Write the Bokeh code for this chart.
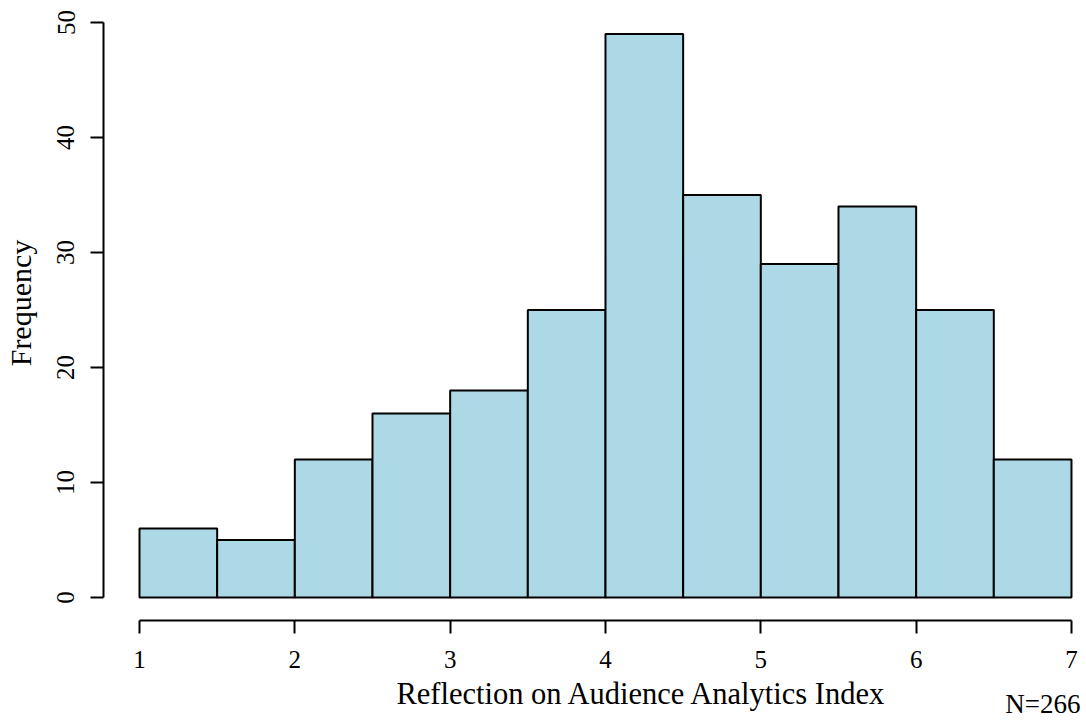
import math
from bokeh.plotting import figure
from bokeh.models import Range1d, FixedTicker, Label
from bokeh.embed import file_html
from bokeh.resources import INLINE

# Histogram data (bin edges and counts)
bin_left = [1.0, 1.5, 2.0, 2.5, 3.0, 3.5, 4.0, 4.5, 5.0, 5.5, 6.0, 6.5]
bin_right = [1.5, 2.0, 2.5, 3.0, 3.5, 4.0, 4.5, 5.0, 5.5, 6.0, 6.5, 7.0]
counts = [6, 5, 12, 16, 18, 25, 49, 35, 29, 34, 25, 12]
x_ticks = [1, 2, 3, 4, 5, 6, 7]
y_ticks = [0, 10, 20, 30, 40, 50]
x_title = "Reflection on Audience Analytics Index"
y_title = "Frequency"
n_note = "N=266"

FONT = "Liberation Serif"

# frame covers the whole canvas; axes are drawn at fixed data locations (R style, detached)
p = figure(width=1086, height=720, output_backend="svg", toolbar_location=None,
           x_range=Range1d(0.10513, 7.0967), y_range=Range1d(-10.6957, 51.913),
           min_border_left=0, min_border_right=0, min_border_top=0, min_border_bottom=0)
p.outline_line_color = None
p.xgrid.visible = False
p.ygrid.visible = False
p.background_fill_color = "white"
p.border_fill_color = "white"

p.quad(left=bin_left, right=bin_right, top=counts, bottom=0,
       fill_color="#ADD8E6", line_color="black", line_width=2)

for ax, ticks in ((p.xaxis[0], x_ticks), (p.yaxis[0], y_ticks)):
    ax.ticker = FixedTicker(ticks=ticks)
    ax.bounds = (ticks[0], ticks[-1])
    ax.axis_line_width = 2
    ax.axis_line_color = "black"
    ax.major_tick_line_width = 2
    ax.major_tick_line_color = "black"
    ax.major_tick_out = 13
    ax.major_tick_in = 0
    ax.minor_tick_line_color = None
    ax.major_label_text_font = FONT
    ax.major_label_text_font_size = "25px"
    ax.major_label_text_color = "black"

p.xaxis.fixed_location = -2.0
p.xaxis.major_label_standoff = 18
p.yaxis.fixed_location = 0.76824
p.yaxis.major_label_orientation = "parallel"
p.yaxis.major_label_standoff = 16

x_lab = Label(x=4.235, y=-8.35, text=x_title, text_font=FONT, text_font_size="30.5px",
              text_align="center", text_baseline="alphabetic", text_color="black")
y_lab = Label(x=0.2339, y=25.609, text=y_title, text_font=FONT, text_font_size="30px",
              angle=math.pi / 2, text_align="center", text_baseline="alphabetic",
              text_color="black")
note = Label(x=7.0581, y=-9.22, text=n_note, text_font=FONT, text_font_size="27px",
             text_align="right", text_baseline="alphabetic", text_color="black")
for lab in (x_lab, y_lab, note):
    p.add_layout(lab)

open("out.html", "w").write(file_html(p, INLINE))
